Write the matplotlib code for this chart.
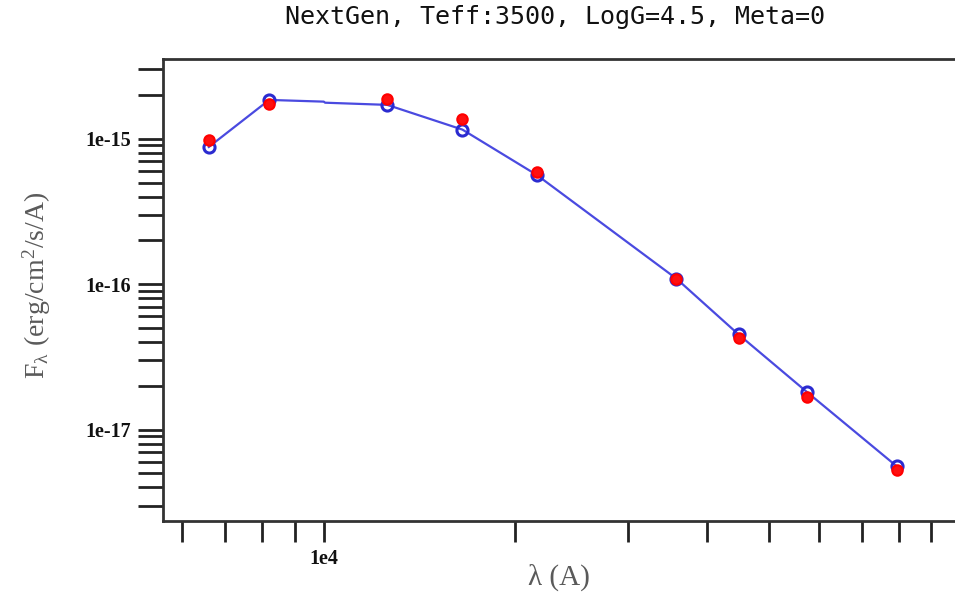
import matplotlib
matplotlib.use("Agg")
import matplotlib.pyplot as plt
from matplotlib import ticker

# photometry points (Angstrom, erg/cm2/s/A)
wave = [6600, 8210, 12580, 16510, 21600, 35800, 44800, 57300, 79400]
flux_model = [8.78e-16, 1.85e-15, 1.71e-15, 1.156e-15, 5.64e-16,
              1.09e-16, 4.51e-17, 1.82e-17, 5.58e-18]
flux_obs = [9.8e-16, 1.74e-15, 1.88e-15, 1.37e-15, 5.95e-16,
            1.078e-16, 4.28e-17, 1.67e-17, 5.29e-18]

# model curve (passes through the model points, one extra knot near 1e4)
curve_wave = [6600, 8210, 10000, 10050, 12580, 16510, 21600, 35800, 44800, 57300, 79400]
curve_flux = [8.78e-16, 1.85e-15, 1.80e-15, 1.77e-15, 1.71e-15, 1.156e-15,
              5.64e-16, 1.09e-16, 4.51e-17, 1.82e-17, 5.58e-18]

title = "NextGen, Teff:3500, LogG=4.5, Meta=0"
x_labels = {1e4: "1e4"}
y_labels = {1e-15: "1e-15", 1e-16: "1e-16", 1e-17: "1e-17"}

plt.rcParams["mathtext.fontset"] = "stix"

fig = plt.figure(figsize=(9.55, 5.93), dpi=100)
ax = fig.add_axes([0.1705, 0.1206, 0.8295, 0.7791])

ax.plot(curve_wave, curve_flux, color="#4a4ae0", lw=1.6, zorder=2)
ax.plot(wave, flux_model, "o", ms=8, mfc="none", mec="#2b2bd0", mew=2.2, zorder=3)
ax.plot(wave, flux_obs, "o", ms=7.5, mfc="#ff1010", mec="#ff0000", mew=1.5, zorder=4)

ax.set_xscale("log")
ax.set_yscale("log")
ax.set_xlim(5589, 98000)
ax.set_ylim(2.33e-18, 3.51e-15)

ax.xaxis.set_major_locator(ticker.LogLocator(base=10, subs=range(1, 10), numticks=50))
ax.yaxis.set_major_locator(ticker.LogLocator(base=10, subs=range(1, 10), numticks=50))
ax.xaxis.set_minor_locator(ticker.NullLocator())
ax.yaxis.set_minor_locator(ticker.NullLocator())


def fmt_x(v, pos):
    for k, s in x_labels.items():
        if abs(v / k - 1) < 1e-6:
            return s
    return ""


def fmt_y(v, pos):
    for k, s in y_labels.items():
        if abs(v / k - 1) < 1e-6:
            return s
    return ""


ax.xaxis.set_major_formatter(ticker.FuncFormatter(fmt_x))
ax.yaxis.set_major_formatter(ticker.FuncFormatter(fmt_y))

ax.tick_params(axis="x", length=15, width=2, color="#222222", pad=5)
ax.tick_params(axis="y", length=18, width=2, color="#222222", pad=5)
for lab in ax.get_xticklabels() + ax.get_yticklabels():
    lab.set_fontfamily("Liberation Serif")
    lab.set_fontweight("bold")
    lab.set_fontsize(14.5)
    lab.set_color("#111111")

for side in ["left", "bottom", "top"]:
    ax.spines[side].set_linewidth(2)
    ax.spines[side].set_color("#333333")
ax.spines["right"].set_visible(False)

fig.text(0.581, 0.971, title, ha="center", va="center",
         fontsize=18, family="DejaVu Sans Mono", color="#111111")
fig.text(0.585, 0.026, "λ (A)", ha="center", va="center",
         fontsize=21, family="Liberation Serif", color="#5a5a5a")
fig.text(0.038, 0.518, r"F$_\mathregular{λ}$ (erg/cm$^\mathregular{2}$/s/A)",
         ha="center", va="center", rotation=90, fontsize=20,
         family="Liberation Serif", color="#5a5a5a")

fig.savefig("out.png", dpi=100)
